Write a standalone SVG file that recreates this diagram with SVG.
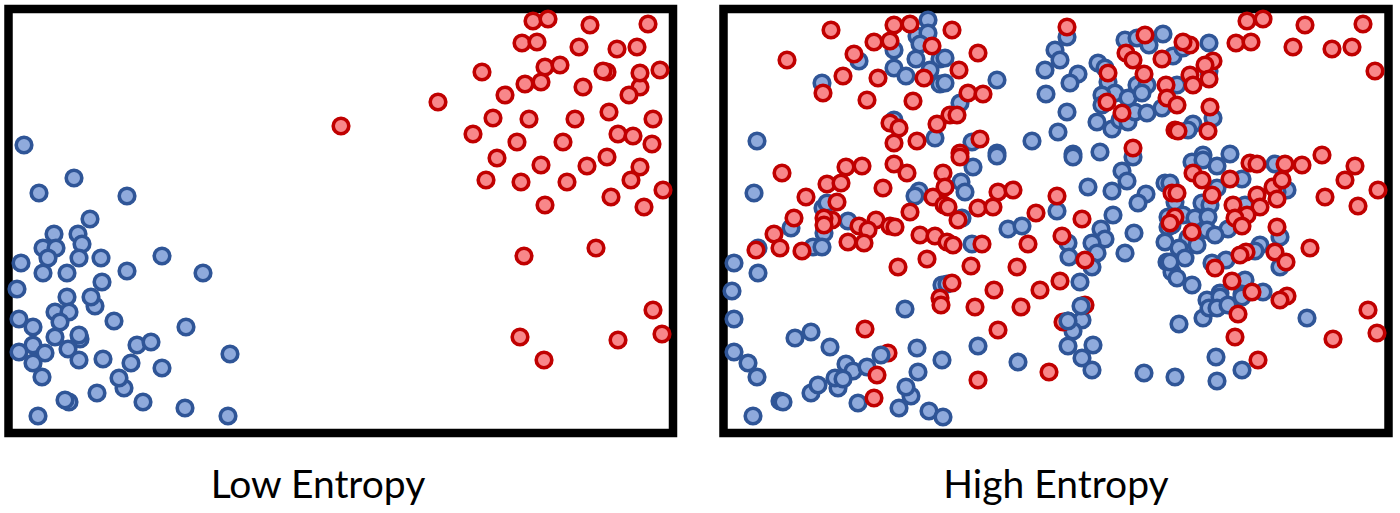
<svg xmlns="http://www.w3.org/2000/svg" xmlns:xlink="http://www.w3.org/1999/xlink" width="1400" height="513" viewBox="0 0 1400 513">
<style>
.frame{fill:#fff;stroke:#000;stroke-width:8.5}
.lbl{font-family:Lato,"Noto Sans","Liberation Sans",sans-serif;font-size:39px;fill:#000;text-anchor:middle}
</style>
<defs>
<circle id="b" cx="0" cy="0" r="7.8" fill="#8FAADC" stroke="#2F5597" stroke-width="3.6"/>
<circle id="r" cx="0" cy="0" r="7.8" fill="#F8878A" stroke="#C00000" stroke-width="3.6"/>
</defs>
<rect width="1400" height="513" fill="#fff"/>
<g id="low-entropy">
<rect class="frame" x="8.5" y="9" width="664.5" height="424"/>
<g id="low-blue">
<use href="#b" x="24" y="145"/><use href="#b" x="74" y="178"/><use href="#b" x="39" y="193"/><use href="#b" x="127" y="196"/><use href="#b" x="90" y="219"/><use href="#b" x="54" y="234"/><use href="#b" x="78" y="234"/><use href="#b" x="82" y="244"/><use href="#b" x="43" y="248"/><use href="#b" x="56" y="248"/><use href="#b" x="48" y="258"/><use href="#b" x="79" y="258"/><use href="#b" x="101" y="258"/><use href="#b" x="162" y="256"/><use href="#b" x="21" y="263"/><use href="#b" x="43" y="273"/><use href="#b" x="67" y="273"/><use href="#b" x="127" y="271"/><use href="#b" x="203" y="273"/><use href="#b" x="17" y="289"/><use href="#b" x="102" y="282"/><use href="#b" x="67" y="297"/><use href="#b" x="95" y="306"/><use href="#b" x="91" y="297"/><use href="#b" x="55" y="312"/><use href="#b" x="69" y="312"/><use href="#b" x="60" y="322"/><use href="#b" x="19" y="319"/><use href="#b" x="33" y="327"/><use href="#b" x="114" y="321"/><use href="#b" x="186" y="327"/><use href="#b" x="55" y="337"/><use href="#b" x="80" y="339"/><use href="#b" x="79" y="335"/><use href="#b" x="33" y="345"/><use href="#b" x="68" y="349"/><use href="#b" x="137" y="345"/><use href="#b" x="151" y="342"/><use href="#b" x="19" y="352"/><use href="#b" x="45" y="353"/><use href="#b" x="79" y="360"/><use href="#b" x="103" y="359"/><use href="#b" x="230" y="354"/><use href="#b" x="33" y="363"/><use href="#b" x="131" y="363"/><use href="#b" x="162" y="368"/><use href="#b" x="42" y="377"/><use href="#b" x="124" y="388"/><use href="#b" x="119" y="378"/><use href="#b" x="97" y="393"/><use href="#b" x="69" y="402"/><use href="#b" x="65" y="400"/><use href="#b" x="143" y="402"/><use href="#b" x="185" y="408"/><use href="#b" x="38" y="416"/><use href="#b" x="228" y="416"/>
</g>
<g id="low-red">
<use href="#r" x="533" y="21"/><use href="#r" x="548" y="19"/><use href="#r" x="590" y="25"/><use href="#r" x="648" y="24"/><use href="#r" x="522" y="43"/><use href="#r" x="537" y="42"/><use href="#r" x="579" y="47"/><use href="#r" x="617" y="49"/><use href="#r" x="637" y="47"/><use href="#r" x="482" y="72"/><use href="#r" x="545" y="67"/><use href="#r" x="560" y="65"/><use href="#r" x="607" y="72"/><use href="#r" x="603" y="71"/><use href="#r" x="640" y="87"/><use href="#r" x="640" y="73"/><use href="#r" x="660" y="70"/><use href="#r" x="525" y="84"/><use href="#r" x="541" y="82"/><use href="#r" x="583" y="87"/><use href="#r" x="629" y="95"/><use href="#r" x="505" y="95"/><use href="#r" x="438" y="102"/><use href="#r" x="341" y="126"/><use href="#r" x="493" y="118"/><use href="#r" x="529" y="119"/><use href="#r" x="575" y="119"/><use href="#r" x="609" y="112"/><use href="#r" x="653" y="119"/><use href="#r" x="473" y="134"/><use href="#r" x="517" y="142"/><use href="#r" x="563" y="142"/><use href="#r" x="618" y="134"/><use href="#r" x="633" y="136"/><use href="#r" x="652" y="144"/><use href="#r" x="497" y="158"/><use href="#r" x="541" y="165"/><use href="#r" x="607" y="157"/><use href="#r" x="587" y="166"/><use href="#r" x="640" y="167"/><use href="#r" x="486" y="180"/><use href="#r" x="521" y="182"/><use href="#r" x="567" y="182"/><use href="#r" x="631" y="180"/><use href="#r" x="663" y="190"/><use href="#r" x="611" y="197"/><use href="#r" x="545" y="205"/><use href="#r" x="644" y="207"/><use href="#r" x="524" y="256"/><use href="#r" x="596" y="248"/><use href="#r" x="653" y="310"/><use href="#r" x="662" y="334"/><use href="#r" x="520" y="337"/><use href="#r" x="618" y="340"/><use href="#r" x="544" y="360"/>
</g>
</g>
<g id="high-entropy">
<rect class="frame" x="723.5" y="9" width="665" height="424"/>
<g id="high-blue">
<use href="#b" x="928" y="20"/><use href="#b" x="917" y="36"/><use href="#b" x="928" y="33"/><use href="#b" x="894" y="50"/><use href="#b" x="920" y="44"/><use href="#b" x="859" y="61"/><use href="#b" x="916" y="59"/><use href="#b" x="940" y="59"/><use href="#b" x="894" y="68"/><use href="#b" x="906" y="76"/><use href="#b" x="930" y="70"/><use href="#b" x="940" y="84"/><use href="#b" x="822" y="83"/><use href="#b" x="894" y="120"/><use href="#b" x="935" y="138"/><use href="#b" x="757" y="141"/>
<use href="#b" x="1067" y="37"/><use href="#b" x="1055" y="50"/><use href="#b" x="1060" y="60"/><use href="#b" x="1045" y="70"/><use href="#b" x="997" y="80"/><use href="#b" x="945" y="58"/><use href="#b" x="945" y="83"/><use href="#b" x="1078" y="74"/><use href="#b" x="1070" y="83"/><use href="#b" x="1046" y="94"/><use href="#b" x="960" y="103"/><use href="#b" x="1067" y="112"/><use href="#b" x="1058" y="132"/><use href="#b" x="1032" y="141"/><use href="#b" x="972" y="142"/><use href="#b" x="997" y="153"/><use href="#b" x="1073" y="154"/><use href="#b" x="1100" y="152"/><use href="#b" x="1125" y="40"/><use href="#b" x="1137" y="38"/><use href="#b" x="1149" y="45"/><use href="#b" x="1163" y="34"/><use href="#b" x="1098" y="63"/><use href="#b" x="1105" y="68"/><use href="#b" x="1108" y="82"/><use href="#b" x="1137" y="85"/><use href="#b" x="1147" y="85"/><use href="#b" x="1115" y="93"/><use href="#b" x="1128" y="98"/><use href="#b" x="1142" y="93"/><use href="#b" x="1102" y="95"/><use href="#b" x="1102" y="105"/><use href="#b" x="1097" y="122"/><use href="#b" x="1112" y="129"/><use href="#b" x="1120" y="120"/><use href="#b" x="1128" y="122"/><use href="#b" x="1135" y="112"/><use href="#b" x="1147" y="113"/><use href="#b" x="1162" y="108"/><use href="#b" x="1173" y="56"/><use href="#b" x="1177" y="85"/>
<use href="#b" x="1209" y="43"/><use href="#b" x="1183" y="48"/><use href="#b" x="1209" y="71"/><use href="#b" x="1213" y="118"/><use href="#b" x="1193" y="124"/><use href="#b" x="1188" y="130"/><use href="#b" x="1230" y="154"/><use href="#b" x="1203" y="155"/>
<use href="#b" x="754" y="193"/><use href="#b" x="823" y="208"/><use href="#b" x="827" y="203"/><use href="#b" x="919" y="191"/><use href="#b" x="915" y="196"/><use href="#b" x="848" y="221"/><use href="#b" x="791" y="228"/><use href="#b" x="824" y="233"/><use href="#b" x="813" y="247"/><use href="#b" x="822" y="247"/><use href="#b" x="758" y="248"/><use href="#b" x="734" y="263"/><use href="#b" x="758" y="273"/><use href="#b" x="732" y="291"/><use href="#b" x="942" y="285"/>
<use href="#b" x="997" y="156"/><use href="#b" x="973" y="167"/><use href="#b" x="1073" y="157"/><use href="#b" x="1133" y="157"/><use href="#b" x="961" y="182"/><use href="#b" x="965" y="192"/><use href="#b" x="1122" y="171"/><use href="#b" x="1127" y="181"/><use href="#b" x="1088" y="187"/><use href="#b" x="1112" y="191"/><use href="#b" x="1146" y="194"/><use href="#b" x="1138" y="203"/><use href="#b" x="1165" y="183"/><use href="#b" x="1057" y="211"/><use href="#b" x="1113" y="215"/><use href="#b" x="962" y="218"/><use href="#b" x="1008" y="229"/><use href="#b" x="1022" y="226"/><use href="#b" x="1101" y="229"/><use href="#b" x="1105" y="239"/><use href="#b" x="1134" y="233"/><use href="#b" x="1092" y="243"/><use href="#b" x="1097" y="253"/><use href="#b" x="1068" y="243"/><use href="#b" x="1069" y="257"/><use href="#b" x="972" y="244"/><use href="#b" x="1125" y="253"/><use href="#b" x="1092" y="267"/><use href="#b" x="1080" y="282"/><use href="#b" x="1168" y="217"/><use href="#b" x="1168" y="227"/><use href="#b" x="1165" y="242"/><use href="#b" x="1167" y="262"/><use href="#b" x="947" y="284"/><use href="#b" x="1172" y="272"/>
<use href="#b" x="1192" y="162"/><use href="#b" x="1203" y="160"/><use href="#b" x="1217" y="166"/><use href="#b" x="1242" y="179"/><use href="#b" x="1275" y="164"/><use href="#b" x="1287" y="190"/><use href="#b" x="1277" y="192"/><use href="#b" x="1217" y="188"/><use href="#b" x="1170" y="183"/><use href="#b" x="1175" y="202"/><use href="#b" x="1202" y="203"/><use href="#b" x="1210" y="205"/><use href="#b" x="1245" y="205"/><use href="#b" x="1183" y="215"/><use href="#b" x="1195" y="218"/><use href="#b" x="1208" y="217"/><use href="#b" x="1172" y="225"/><use href="#b" x="1207" y="230"/><use href="#b" x="1228" y="229"/><use href="#b" x="1215" y="235"/><use href="#b" x="1188" y="238"/><use href="#b" x="1197" y="245"/><use href="#b" x="1179" y="248"/><use href="#b" x="1185" y="258"/><use href="#b" x="1170" y="262"/><use href="#b" x="1280" y="237"/><use href="#b" x="1260" y="245"/><use href="#b" x="1255" y="251"/><use href="#b" x="1280" y="267"/><use href="#b" x="1226" y="260"/><use href="#b" x="1212" y="263"/><use href="#b" x="1177" y="278"/><use href="#b" x="1192" y="285"/><use href="#b" x="1245" y="280"/><use href="#b" x="1263" y="292"/><use href="#b" x="1220" y="293"/><use href="#b" x="1242" y="294"/><use href="#b" x="1207" y="300"/>
<use href="#b" x="734" y="319"/><use href="#b" x="905" y="309"/><use href="#b" x="795" y="338"/><use href="#b" x="811" y="332"/><use href="#b" x="830" y="347"/><use href="#b" x="734" y="352"/><use href="#b" x="748" y="363"/><use href="#b" x="757" y="377"/><use href="#b" x="846" y="364"/><use href="#b" x="853" y="371"/><use href="#b" x="867" y="367"/><use href="#b" x="917" y="348"/><use href="#b" x="942" y="360"/><use href="#b" x="838" y="388"/><use href="#b" x="835" y="378"/><use href="#b" x="843" y="379"/><use href="#b" x="811" y="393"/><use href="#b" x="818" y="385"/><use href="#b" x="780" y="401"/><use href="#b" x="783" y="402"/><use href="#b" x="858" y="403"/><use href="#b" x="918" y="372"/><use href="#b" x="911" y="396"/><use href="#b" x="906" y="387"/><use href="#b" x="899" y="408"/><use href="#b" x="929" y="411"/><use href="#b" x="943" y="417"/><use href="#b" x="753" y="416"/>
<use href="#b" x="1068" y="321"/><use href="#b" x="1082" y="320"/><use href="#b" x="1073" y="331"/><use href="#b" x="1068" y="346"/><use href="#b" x="1093" y="345"/><use href="#b" x="1082" y="358"/><use href="#b" x="1092" y="370"/><use href="#b" x="978" y="346"/><use href="#b" x="1018" y="362"/><use href="#b" x="1144" y="373"/><use href="#b" x="1175" y="377"/><use href="#b" x="1179" y="324"/>
<use href="#b" x="1220" y="297"/><use href="#b" x="1242" y="297"/><use href="#b" x="1203" y="318"/><use href="#b" x="1209" y="308"/><use href="#b" x="1217" y="308"/><use href="#b" x="1228" y="305"/><use href="#b" x="1307" y="318"/><use href="#b" x="1216" y="357"/><use href="#b" x="1242" y="370"/><use href="#b" x="1217" y="381"/>
</g>
<g id="high-red">
<use href="#r" x="831" y="30"/><use href="#r" x="894" y="25"/><use href="#r" x="910" y="24"/><use href="#r" x="952" y="30"/><use href="#r" x="874" y="42"/><use href="#r" x="890" y="41"/><use href="#r" x="932" y="46"/><use href="#r" x="854" y="54"/><use href="#r" x="787" y="60"/><use href="#r" x="843" y="76"/><use href="#r" x="878" y="78"/><use href="#r" x="924" y="78"/><use href="#r" x="823" y="93"/><use href="#r" x="867" y="100"/><use href="#r" x="913" y="101"/><use href="#r" x="890" y="123"/><use href="#r" x="899" y="128"/><use href="#r" x="937" y="124"/><use href="#r" x="894" y="143"/><use href="#r" x="917" y="141"/><use href="#r" x="950" y="115"/>
<use href="#r" x="1067" y="27"/><use href="#r" x="978" y="53"/><use href="#r" x="959" y="70"/><use href="#r" x="968" y="93"/><use href="#r" x="983" y="94"/><use href="#r" x="957" y="115"/><use href="#r" x="980" y="139"/><use href="#r" x="960" y="153"/><use href="#r" x="1108" y="73"/><use href="#r" x="1126" y="53"/><use href="#r" x="1133" y="60"/><use href="#r" x="1145" y="35"/><use href="#r" x="1144" y="74"/><use href="#r" x="1162" y="59"/><use href="#r" x="1166" y="85"/><use href="#r" x="1167" y="98"/><use href="#r" x="1107" y="102"/><use href="#r" x="1122" y="113"/><use href="#r" x="1133" y="148"/><use href="#r" x="1175" y="130"/>
<use href="#r" x="1247" y="21"/><use href="#r" x="1263" y="19"/><use href="#r" x="1305" y="25"/><use href="#r" x="1363" y="24"/><use href="#r" x="1236" y="43"/><use href="#r" x="1251" y="42"/><use href="#r" x="1293" y="47"/><use href="#r" x="1332" y="49"/><use href="#r" x="1352" y="47"/><use href="#r" x="1375" y="71"/><use href="#r" x="1190" y="45"/><use href="#r" x="1183" y="42"/><use href="#r" x="1213" y="61"/><use href="#r" x="1205" y="65"/><use href="#r" x="1190" y="75"/><use href="#r" x="1209" y="79"/><use href="#r" x="1193" y="85"/><use href="#r" x="1177" y="105"/><use href="#r" x="1210" y="107"/><use href="#r" x="1178" y="131"/><use href="#r" x="1208" y="131"/><use href="#r" x="1322" y="155"/>
<use href="#r" x="782" y="173"/><use href="#r" x="846" y="167"/><use href="#r" x="862" y="166"/><use href="#r" x="894" y="164"/><use href="#r" x="907" y="173"/><use href="#r" x="943" y="173"/><use href="#r" x="827" y="184"/><use href="#r" x="841" y="183"/><use href="#r" x="883" y="188"/><use href="#r" x="806" y="197"/><use href="#r" x="837" y="202"/><use href="#r" x="933" y="197"/><use href="#r" x="944" y="205"/><use href="#r" x="910" y="212"/><use href="#r" x="794" y="218"/><use href="#r" x="832" y="220"/><use href="#r" x="824" y="218"/><use href="#r" x="824" y="225"/><use href="#r" x="876" y="220"/><use href="#r" x="859" y="226"/><use href="#r" x="868" y="230"/><use href="#r" x="890" y="226"/><use href="#r" x="895" y="227"/><use href="#r" x="774" y="234"/><use href="#r" x="920" y="235"/><use href="#r" x="935" y="236"/><use href="#r" x="947" y="242"/><use href="#r" x="780" y="248"/><use href="#r" x="756" y="250"/><use href="#r" x="802" y="251"/><use href="#r" x="848" y="242"/><use href="#r" x="864" y="243"/><use href="#r" x="927" y="259"/><use href="#r" x="898" y="267"/><use href="#r" x="940" y="298"/>
<use href="#r" x="960" y="157"/><use href="#r" x="945" y="187"/><use href="#r" x="998" y="192"/><use href="#r" x="1013" y="190"/><use href="#r" x="978" y="208"/><use href="#r" x="993" y="207"/><use href="#r" x="1057" y="196"/><use href="#r" x="1036" y="213"/><use href="#r" x="948" y="207"/><use href="#r" x="958" y="220"/><use href="#r" x="1082" y="219"/><use href="#r" x="953" y="245"/><use href="#r" x="982" y="244"/><use href="#r" x="1028" y="244"/><use href="#r" x="1062" y="236"/><use href="#r" x="971" y="266"/><use href="#r" x="1017" y="267"/><use href="#r" x="1085" y="260"/><use href="#r" x="952" y="283"/><use href="#r" x="994" y="290"/><use href="#r" x="1040" y="290"/><use href="#r" x="1060" y="281"/><use href="#r" x="1172" y="193"/><use href="#r" x="1175" y="217"/>
<use href="#r" x="1355" y="166"/><use href="#r" x="1345" y="180"/><use href="#r" x="1378" y="190"/><use href="#r" x="1325" y="197"/><use href="#r" x="1358" y="206"/><use href="#r" x="1302" y="165"/><use href="#r" x="1285" y="164"/><use href="#r" x="1250" y="163"/><use href="#r" x="1257" y="164"/><use href="#r" x="1193" y="173"/><use href="#r" x="1202" y="180"/><use href="#r" x="1230" y="179"/><use href="#r" x="1177" y="193"/><use href="#r" x="1212" y="195"/><use href="#r" x="1257" y="195"/><use href="#r" x="1273" y="187"/><use href="#r" x="1282" y="180"/><use href="#r" x="1277" y="199"/><use href="#r" x="1260" y="207"/><use href="#r" x="1233" y="205"/><use href="#r" x="1247" y="215"/><use href="#r" x="1235" y="218"/><use href="#r" x="1242" y="226"/><use href="#r" x="1192" y="232"/><use href="#r" x="1277" y="227"/><use href="#r" x="1310" y="248"/><use href="#r" x="1275" y="252"/><use href="#r" x="1246" y="252"/><use href="#r" x="1240" y="255"/><use href="#r" x="1286" y="262"/><use href="#r" x="1215" y="268"/><use href="#r" x="1232" y="281"/><use href="#r" x="1252" y="292"/><use href="#r" x="1287" y="296"/><use href="#r" x="1280" y="300"/><use href="#r" x="1170" y="223"/>
<use href="#r" x="941" y="305"/><use href="#r" x="865" y="329"/><use href="#r" x="888" y="353"/><use href="#r" x="877" y="375"/><use href="#r" x="874" y="398"/>
<use href="#r" x="975" y="307"/><use href="#r" x="1021" y="307"/><use href="#r" x="998" y="330"/><use href="#r" x="1063" y="322"/><use href="#r" x="1085" y="305"/><use href="#r" x="1049" y="372"/><use href="#r" x="978" y="380"/>
<use href="#b" x="1081" y="306"/><use href="#b" x="1068" y="321"/><use href="#b" x="881" y="355"/>
<use href="#r" x="1238" y="314"/><use href="#r" x="1235" y="337"/><use href="#r" x="1258" y="360"/><use href="#r" x="1368" y="310"/><use href="#r" x="1377" y="333"/><use href="#r" x="1333" y="339"/>
</g>
</g>
<text class="lbl" x="318" y="498">Low Entropy</text>
<text class="lbl" x="1056" y="498">High Entropy</text>
</svg>
